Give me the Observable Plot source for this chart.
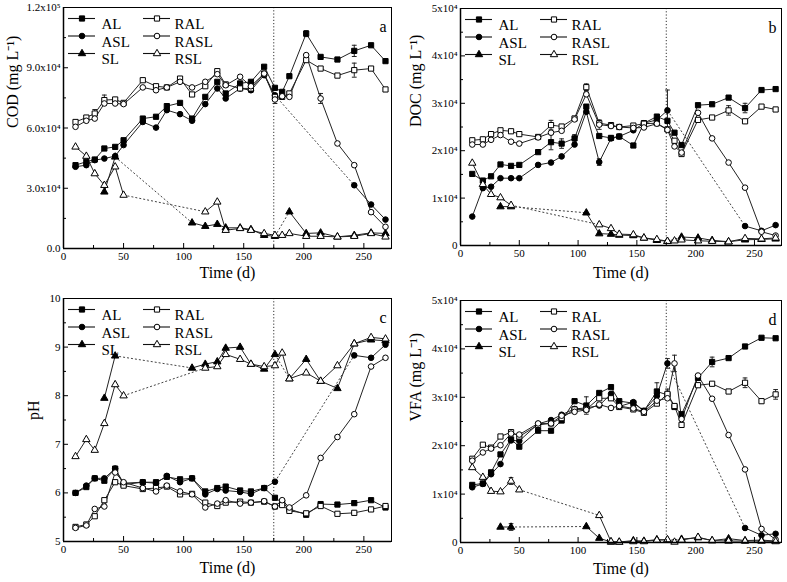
<!DOCTYPE html>
<html><head><meta charset="utf-8">
<script src="https://cdn.jsdelivr.net/npm/d3@7"></script>
<script src="https://cdn.jsdelivr.net/npm/@observablehq/plot@0.6"></script>
<style>
body{margin:0;background:#fff;}
#wrap{position:relative;width:787px;height:582px;background:#fff;}
.panel{position:absolute;}
</style></head><body><div id="wrap"></div>
<script>
// ---------- data ----------
const days = [10,19,26,34,43,50,66,77,86,97,107,118,128,135,147,156,167,176,182,188,202,214,228,242,256,268];
const stageDay = 175;
const seriesNames = ["AL","ASL","SL","RAL","RASL","RSL"];

const xTicks = [0,50,100,150,200,250];
const xMinor = [25,75,125,175,225];
const codTicks = [0,30000,60000,90000,120000];
const codTickLabels = ["0.0","3.0x10⁴","6.0x10⁴","9.0x10⁴","1.2x10⁵"];
const codMinor = [15000,45000,75000,105000];
const concTicks = [0,10000,20000,30000,40000,50000];
const concTickLabels = ["0","1x10⁴","2x10⁴","3x10⁴","4x10⁴","5x10⁴"];
const concMinor = [5000,15000,25000,35000,45000];
const phTicks = [5,6,7,8,9,10];
const phTickLabels = ["5","6","7","8","9","10"];
const phMinor = [5.5,6.5,7.5,8.5,9.5];

// COD (mg L-1)
const codAL   = [41500,43200,44300,49800,50600,53900,64700,65600,70900,72500,64700,75500,83000,77200,82200,83000,90500,80000,78000,85800,107000,95400,94100,98400,101200,93300];
const codASL  = [40700,41500,44000,44800,46000,51500,63000,60200,68900,66900,63600,71900,79700,74700,79700,78800,86300,76300,null,null,null,null,null,31500,21900,14400];
const codSL   = [null,null,null,28200,45600,null,null,null,null,null,12800,11100,12100,10300,10300,9500,6600,6100,null,18300,7500,7800,5800,6600,7800,7500];
const codRAL  = [63000,65200,67200,73900,74200,72500,83800,80800,80200,84600,76700,80800,88300,81700,79700,79700,87100,75500,75500,77200,93800,89600,86100,88800,89600,79200];
const codRASL = [60600,63600,64700,72200,72200,71900,80200,78800,80200,83000,80200,83000,86800,81300,85500,80800,87100,74200,75800,75500,96300,74700,52300,41500,18100,10800];
const codRSL  = [50600,46000,37300,31500,40700,26600,null,null,null,null,null,18300,23200,9100,10000,9100,7500,6600,6600,7500,6100,6100,5800,6100,7500,5800];
const codErr  = [["AL",242,2800],["RAL",242,3500],["RAL",34,2500],["RASL",214,2500],["RASL",176,2000],["AL",202,1500],["RAL",26,2000],["RAL",156,2000]];

// DOC (mg L-1)
const docAL   = [15100,13700,14600,17100,16800,17000,19700,21800,21500,22600,29300,23100,22700,23000,21100,25800,27200,26300,23800,21200,29600,29800,31200,29000,32800,33000];
const docASL  = [6100,12100,12400,14200,14200,14200,17000,17500,18800,21300,28200,17600,22600,23000,24300,25800,26500,28500,null,null,null,null,null,4100,3100,4300];
const docSL   = [null,null,null,8200,8200,null,null,null,null,null,6900,2500,2400,2200,2100,1600,1100,900,null,1800,1600,1100,800,1200,1300,1400];
const docRAL  = [22200,22400,23500,24300,24100,23500,22900,25400,25100,26800,33400,25800,25400,25000,25300,25700,25800,24500,22100,19300,26500,27000,28500,26200,29300,28700];
const docRASL = [21300,21300,22300,23300,21900,21500,22800,23800,24200,26600,31900,25500,25200,25000,24800,24900,25700,24400,20900,19600,28000,22600,17500,12200,2900,2100];
const docRSL  = [17400,12900,10800,10100,8500,null,null,null,null,null,null,4400,3600,2400,2300,1600,1300,900,1000,1200,1000,900,800,1500,1400,1600];
const docErr  = [["ASL",176,4300],["RAL",77,1000],["AL",77,1600],["AL",86,1000],["RAL",107,700],["AL",242,1000],["RAL",228,1000],["ASL",118,700],["RASL",118,1000],["AL",97,800]];

// pH
const phAL   = [6.0,6.12,6.3,6.25,6.5,6.17,6.22,6.22,6.33,6.28,6.3,6.03,6.1,6.13,6.05,6.03,6.1,5.9,5.8,5.67,5.55,5.77,5.76,5.79,5.85,5.7];
const phASL  = [6.0,6.15,6.3,6.3,6.5,6.2,6.22,6.2,6.35,6.22,6.3,5.97,6.08,6.05,6.02,5.98,6.1,6.23,null,null,null,null,null,8.83,8.78,9.05];
const phSL   = [null,null,null,7.95,8.82,null,null,null,null,null,8.57,8.65,8.7,8.98,9.0,8.65,8.55,8.85,null,8.35,8.75,8.3,8.15,9.07,9.15,9.13];
const phRAL  = [5.3,5.35,5.52,5.85,6.22,6.15,6.08,6.1,6.13,5.97,5.98,5.8,5.73,5.8,5.82,5.8,5.82,5.72,5.75,5.63,5.58,5.73,5.57,5.59,5.66,5.73];
const phRASL = [5.28,5.33,5.67,5.72,6.42,6.22,6.1,6.03,6.15,6.03,5.97,5.7,5.78,5.85,5.78,5.8,5.83,5.72,5.85,5.7,5.95,6.72,7.15,7.62,8.6,8.78];
const phRSL  = [6.75,7.1,6.88,7.43,8.23,8.0,null,null,null,null,null,8.57,8.6,8.85,8.75,8.65,8.6,8.62,8.88,8.35,8.47,8.3,8.62,9.07,9.2,9.17];
const phErr  = [];

// VFA (mg L-1)
const vfaAL   = [11900,12200,14500,18200,21300,19800,23100,23100,25200,29200,28300,30900,32100,29200,28800,27200,31200,30500,28000,26500,34000,37300,38100,40500,42300,42200];
const vfaASL  = [11400,12100,14100,16200,21100,21000,24500,25300,26400,27600,27800,28300,30700,28100,29000,27200,30300,37000,null,null,null,null,null,3000,1500,1800];
const vfaSL   = [null,null,null,3200,3200,null,null,null,null,null,3300,900,100,100,400,300,600,500,null,700,1000,400,800,400,500,300];
const vfaRAL  = [17300,20200,19600,21900,22800,21900,24300,24600,25700,27500,27500,29800,29800,28000,27500,26800,28700,30700,28200,24300,32500,32800,31200,33000,29200,30600];
const vfaRASL = [16900,18600,19400,20100,22500,22300,24600,24600,26200,27000,27400,28500,27800,28200,27700,27000,29300,29800,37000,25500,34500,29700,22200,15100,2800,600];
const vfaRSL  = [15500,13500,10600,10500,12700,10900,null,null,null,null,null,5600,200,100,200,200,500,600,100,500,1100,400,300,300,300,200];
const vfaErr  = [["AL",167,1800],["RASL",182,1700],["ASL",176,1000],["AL",214,1000],["RAL",242,1000],["RAL",268,1000],["AL",107,1800],["RSL",43,700],["SL",43,700],["RAL",176,1000]];

// ---------- symbols ----------
const sq = {draw(c){c.rect(-2.6,-2.6,5.2,5.2);}};
const ci = {draw(c){c.moveTo(2.8,0);c.arc(0,0,2.8,0,2*Math.PI);}};
const tr = {draw(c){c.moveTo(0,-4.2);c.lineTo(3.7,2.2);c.lineTo(-3.7,2.2);c.closePath();}};
const symOf = {AL:sq, ASL:ci, SL:tr, RAL:sq, RASL:ci, RSL:tr};
const filledOf = {AL:true, ASL:true, SL:true, RAL:false, RASL:false, RSL:false};

function build(cfg){
  const {vals, err, yDomain, yTicks, yLabels, yMinor, yTitle, letter, W, H, m, yTitleDx, xTitleDy, left, top} = cfg;
  const pw = W - m.left - m.right, ph = H - m.top - m.bottom;
  const rows = [];
  seriesNames.forEach(s => vals[s].forEach((v,i) => rows.push({s, x: days[i], y: v == null ? NaN : v})));
  const gaps = [];
  seriesNames.forEach(s => {
    let last = -1;
    vals[s].forEach((v,i) => {
      if (v == null) return;
      if (last >= 0 && i - last > 1) gaps.push({x1: days[last], y1: vals[s][last], x2: days[i], y2: v});
      last = i;
    });
  });
  const errRows = err.map(([s,d,e]) => { const v = vals[s][days.indexOf(d)]; return {x: d, lo: v - e, hi: v + e}; });
  const marks = [
    Plot.ruleX([stageDay], {stroke:"#333", strokeDasharray:"1.2,2"}),
    Plot.link(gaps, {x1:"x1", y1:"y1", x2:"x2", y2:"y2", stroke:"#444", strokeDasharray:"2,2"}),
    Plot.line(rows, {x:"x", y:"y", z:"s", stroke:"#222", strokeWidth:1}),
    Plot.ruleX(errRows, {x:"x", y1:"lo", y2:"hi", stroke:"#222"}),
    Plot.link(errRows, {x1: d => d.x - 2, x2: d => d.x + 2, y1:"lo", y2:"lo", stroke:"#222"}),
    Plot.link(errRows, {x1: d => d.x - 2, x2: d => d.x + 2, y1:"hi", y2:"hi", stroke:"#222"})
  ];
  ["AL","ASL","SL","RAL","RASL","RSL"].forEach(s => {
    marks.push(Plot.dot(rows.filter(r => r.s === s && !isNaN(r.y)), {x:"x", y:"y", symbol: symOf[s], fill: filledOf[s] ? "#000" : "#fff", stroke:"#000", strokeWidth:1}));
  });
  // ticks (inward)
  marks.push(Plot.tickY(yTicks, {y: d => d, insetRight: pw - 5, stroke:"#000"}));
  marks.push(Plot.tickY(yMinor, {y: d => d, insetRight: pw - 3, stroke:"#000"}));
  marks.push(Plot.tickX(xTicks, {x: d => d, insetTop: ph - 5, stroke:"#000"}));
  marks.push(Plot.tickX(xMinor, {x: d => d, insetTop: ph - 3, stroke:"#000"}));
  marks.push(Plot.frame({stroke:"#000", strokeWidth:1}));
  marks.push(Plot.ruleX([0], {stroke:"#000", strokeWidth:1.5}));
  marks.push(Plot.ruleY([yDomain[0]], {stroke:"#000", strokeWidth:1.5}));
  // legend (inside the frame, top-left)
  seriesNames.forEach((s,k) => {
    const col = k < 3 ? 0 : 1, row = k % 3;
    const lx = col ? 93.5 : 18.5, tx = col ? 111 : 38, dy = [11, 28.5, 46][row];
    marks.push(Plot.ruleY([yDomain[1]], {dy, insetLeft: lx - 13.5, insetRight: pw - lx - 13.5, stroke:"#111", strokeWidth:1.1}));
    marks.push(Plot.dot([0], {frameAnchor:"top-left", dx: lx, dy, symbol: symOf[s], fill: filledOf[s] ? "#000" : "#fff", stroke:"#000", strokeWidth:1}));
    marks.push(Plot.text([s], {frameAnchor:"top-left", dx: tx, dy, textAnchor:"start", fontSize:15}));
  });
  marks.push(Plot.text([letter], {frameAnchor:"top-right", dx:-5, dy:13, textAnchor:"end", fontSize:16}));
  marks.push(Plot.text([yTitle], {frameAnchor:"left", dx: yTitleDx, rotate:-90, fontSize:16}));
  marks.push(Plot.text(["Time (d)"], {frameAnchor:"bottom", dy: xTitleDy, fontSize:16}));

  const chart = Plot.plot({
    width: W, height: H,
    marginTop: m.top, marginRight: m.right, marginBottom: m.bottom, marginLeft: m.left,
    style: {fontFamily:"'Liberation Serif','Times New Roman',serif", fontSize:"11px", color:"#000", background:"#fff", overflow:"visible"},
    x: {domain:[0,273], ticks: xTicks, tickSize:0, tickPadding:4, label:null},
    y: {domain: yDomain, ticks: yTicks, tickFormat: d => yLabels[yTicks.indexOf(d)], tickSize:0, tickPadding:3, label:null},
    marks
  });
  const div = document.createElement("div");
  div.className = "panel";
  div.style.left = left + "px";
  div.style.top = top + "px";
  div.appendChild(chart);
  document.getElementById("wrap").appendChild(div);
}

build({vals:{AL:codAL,ASL:codASL,SL:codSL,RAL:codRAL,RASL:codRASL,RSL:codRSL}, err:codErr,
  yDomain:[0,120000], yTicks:codTicks, yLabels:codTickLabels, yMinor:codMinor, yTitle:"COD (mg L⁻¹)", letter:"a",
  W:393, H:290, m:{top:7,right:2,bottom:42,left:63}, yTitleDx:-51, xTitleDy:29, left:0, top:0});
build({vals:{AL:docAL,ASL:docASL,SL:docSL,RAL:docRAL,RASL:docRASL,RSL:docRSL}, err:docErr,
  yDomain:[0,50000], yTicks:concTicks, yLabels:concTickLabels, yMinor:concMinor, yTitle:"DOC (mg L⁻¹)", letter:"b",
  W:393, H:290, m:{top:8,right:6,bottom:45,left:66}, yTitleDx:-45, xTitleDy:32, left:394, top:0});
build({vals:{AL:phAL,ASL:phASL,SL:phSL,RAL:phRAL,RASL:phRASL,RSL:phRSL}, err:phErr,
  yDomain:[5,10], yTicks:phTicks, yLabels:phTickLabels, yMinor:phMinor, yTitle:"pH", letter:"c",
  W:393, H:292, m:{top:8,right:2,bottom:41,left:63}, yTitleDx:-30, xTitleDy:31, left:0, top:290});
build({vals:{AL:vfaAL,ASL:vfaASL,SL:vfaSL,RAL:vfaRAL,RASL:vfaRASL,RSL:vfaRSL}, err:vfaErr,
  yDomain:[0,50000], yTicks:concTicks, yLabels:concTickLabels, yMinor:concMinor, yTitle:"VFA (mg L⁻¹)", letter:"d",
  W:393, H:292, m:{top:10,right:6,bottom:40,left:66}, yTitleDx:-45, xTitleDy:31, left:394, top:290});
</script></body></html>
